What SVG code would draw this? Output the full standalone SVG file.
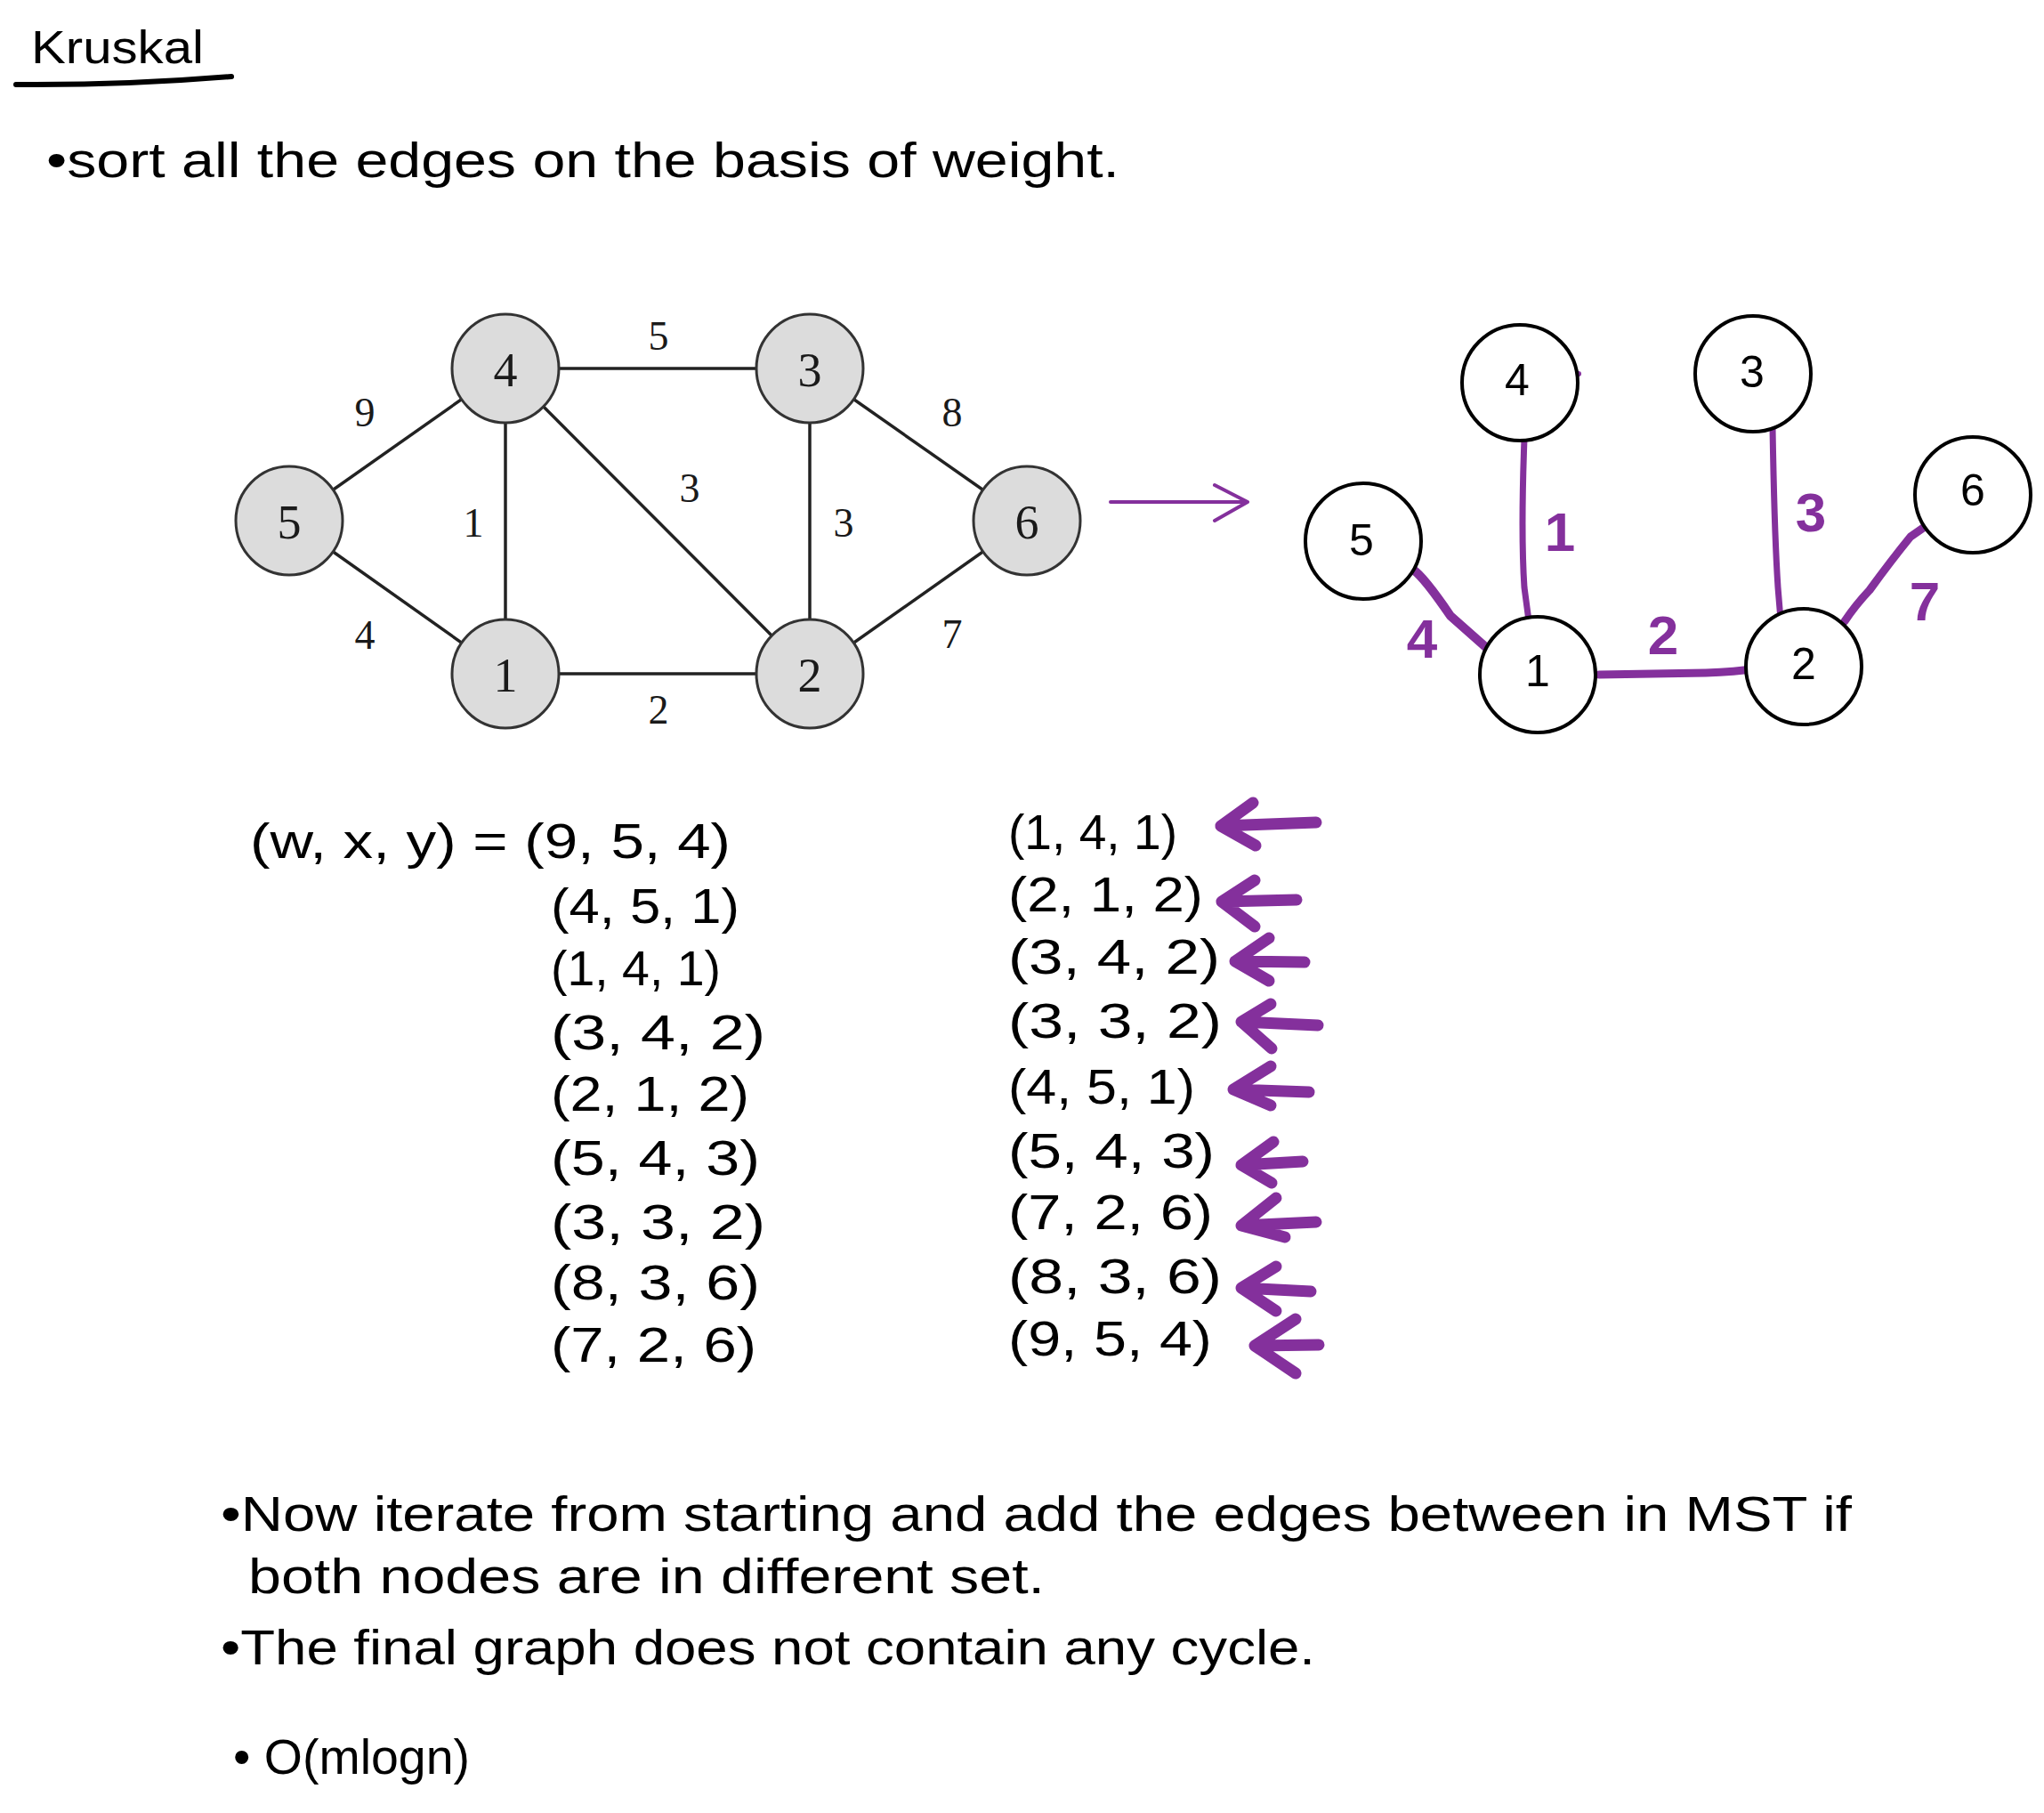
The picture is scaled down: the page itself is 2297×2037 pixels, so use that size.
<svg xmlns="http://www.w3.org/2000/svg" width="2297" height="2037" viewBox="0 0 2297 2037">
<style>
.hw{font-family:"Liberation Sans","Open Sans",sans-serif;fill:#000}
.tx{font-size:56px}
.tp{font-size:56px}
.ser{font-family:"Liberation Serif","DejaVu Serif",serif;fill:#1a1a1a;text-anchor:middle;dominant-baseline:central}
.gnode{fill:#dcdcdc;stroke:#333;stroke-width:3}
.wnode{fill:#fff;stroke:#000;stroke-width:4}
.nl{font-size:54px}
.el{font-size:46px}
.hl{font-family:"Liberation Sans","Open Sans",sans-serif;font-size:50px;text-anchor:middle;dominant-baseline:central;fill:#000}
.pl{font-family:"Liberation Sans","Open Sans",sans-serif;font-size:62px;font-weight:bold;text-anchor:middle;dominant-baseline:central;fill:#84309c}
.pe{fill:none;stroke:#84309c;stroke-linecap:round;stroke-linejoin:round}
.ge{stroke:#222;stroke-width:3.5}
.arr{fill:none;stroke:#84309c;stroke-width:13;stroke-linecap:round;stroke-linejoin:round}
</style>
<rect width="2297" height="2037" fill="#fff"/>

<!-- header -->
<text class="hw" x="35" y="71" font-size="52" textLength="194" lengthAdjust="spacingAndGlyphs">Kruskal</text>
<path d="M18,95 Q140,96 260,86" fill="none" stroke="#000" stroke-width="6" stroke-linecap="round"/>
<text class="hw tx" x="52" y="199" textLength="1206" lengthAdjust="spacingAndGlyphs">•sort all the edges on the basis of weight.</text>

<!-- connectors -->
<g id="connectors">
  <g id="left-edges">
    <line class="ge" x1="568" y1="414" x2="910" y2="414" stroke-width="5"/>
    <line class="ge" x1="568" y1="757" x2="910" y2="757" stroke-width="5"/>
    <line class="ge" x1="325" y1="585" x2="568" y2="414"/>
    <line class="ge" x1="325" y1="585" x2="568" y2="757"/>
    <line class="ge" x1="568" y1="414" x2="568" y2="757" stroke-width="3"/>
    <line class="ge" x1="568" y1="414" x2="910" y2="757"/>
    <line class="ge" x1="910" y1="414" x2="910" y2="757" stroke-width="3"/>
    <line class="ge" x1="910" y1="414" x2="1154" y2="585"/>
    <line class="ge" x1="910" y1="757" x2="1154" y2="585"/>
  </g>
  <g id="transform-arrow">
    <path d="M1248,564 L1402,564 M1365,545 L1402,564 L1365,585" fill="none" stroke="#84309c" stroke-width="4" stroke-linecap="round" stroke-linejoin="round"/>
  </g>
  <g id="mst-edges">
    <path class="pe" stroke-width="7" d="M1713,493 Q1709,600 1713,660 L1719,705"/>
    <path class="pe" stroke-width="7" d="M1992,480 Q1994,600 1998,660 L2002,708"/>
    <path class="pe" stroke-width="10" d="M1588,640 Q1600,648 1630,692 L1682,738"/>
    <path class="pe" stroke-width="9" d="M1797,758 L1917,756 Q1950,755 1975,751"/>
    <path class="pe" stroke-width="9" d="M2073,698 Q2085,680 2101,663 Q2125,630 2147,603 L2170,587"/>
    <circle cx="1774" cy="420" r="3" fill="#84309c"/>
  </g>
  <g id="list-arrows">
    <path class="arr" d="M1479,924 L1372,928 M1408,902 L1372,928 L1411,950"/>
    <path class="arr" d="M1457,1011 L1373,1013 M1410,989 L1373,1013 L1410,1041"/>
    <path class="arr" d="M1466,1081 L1388,1080 M1426,1054 L1388,1080 L1426,1102"/>
    <path class="arr" d="M1481,1152 L1395,1148 M1428,1128 L1395,1148 L1429,1178"/>
    <path class="arr" d="M1471,1227 L1386,1224 M1428,1198 L1386,1224 L1428,1242"/>
    <path class="arr" d="M1464,1305 L1395,1309 M1431,1283 L1395,1309 L1429,1329"/>
    <path class="arr" d="M1479,1373 L1395,1377 M1434,1346 L1395,1377 L1444,1390"/>
    <path class="arr" d="M1473,1451 L1395,1447 M1434,1423 L1395,1447 L1434,1473"/>
    <path class="arr" d="M1482,1511 L1410,1512 M1456,1482 L1410,1512 L1456,1543"/>
  </g>
</g>

<!-- left graph nodes -->
<g id="g-node-4"><ellipse class="gnode" cx="568" cy="414" rx="60" ry="61"/><text class="ser nl" x="568" y="416">4</text></g>
<g id="g-node-3"><ellipse class="gnode" cx="910" cy="414" rx="60" ry="61"/><text class="ser nl" x="910" y="416">3</text></g>
<g id="g-node-5"><ellipse class="gnode" cx="325" cy="585" rx="60" ry="61"/><text class="ser nl" x="325" y="587">5</text></g>
<g id="g-node-6"><ellipse class="gnode" cx="1154" cy="585" rx="60" ry="61"/><text class="ser nl" x="1154" y="587">6</text></g>
<g id="g-node-1"><ellipse class="gnode" cx="568" cy="757" rx="60" ry="61"/><text class="ser nl" x="568" y="759">1</text></g>
<g id="g-node-2"><ellipse class="gnode" cx="910" cy="757" rx="60" ry="61"/><text class="ser nl" x="910" y="759">2</text></g>

<!-- left edge labels -->
<g id="left-edge-labels">
  <text class="ser el" x="740" y="377">5</text>
  <text class="ser el" x="410" y="463">9</text>
  <text class="ser el" x="1070" y="463">8</text>
  <text class="ser el" x="532" y="587">1</text>
  <text class="ser el" x="775" y="548">3</text>
  <text class="ser el" x="948" y="587">3</text>
  <text class="ser el" x="410" y="713">4</text>
  <text class="ser el" x="1070" y="712">7</text>
  <text class="ser el" x="740" y="797">2</text>
</g>

<!-- right graph nodes -->
<g id="m-node-4"><circle class="wnode" cx="1708" cy="430" r="65"/><text class="hl" x="1705" y="427">4</text></g>
<g id="m-node-3"><circle class="wnode" cx="1970" cy="420" r="65"/><text class="hl" x="1969" y="418">3</text></g>
<g id="m-node-5"><circle class="wnode" cx="1532" cy="608" r="65"/><text class="hl" x="1530" y="607">5</text></g>
<g id="m-node-6"><circle class="wnode" cx="2217" cy="556" r="65"/><text class="hl" x="2217" y="551">6</text></g>
<g id="m-node-1"><circle class="wnode" cx="1728" cy="758" r="65"/><text class="hl" x="1728" y="754">1</text></g>
<g id="m-node-2"><circle class="wnode" cx="2027" cy="749" r="65"/><text class="hl" x="2027" y="746">2</text></g>

<!-- MST weight labels -->
<g id="mst-labels">
  <text class="pl" x="1753" y="597">1</text>
  <text class="pl" x="2035" y="575">3</text>
  <text class="pl" x="1598" y="717">4</text>
  <text class="pl" x="1869" y="713">2</text>
  <text class="pl" x="2163" y="675">7</text>
</g>

<!-- edge lists -->
<g id="list-left">
  <text class="hw tp" x="281" y="964" textLength="540" lengthAdjust="spacingAndGlyphs">(w, x, y) = (9, 5, 4)</text>
  <text class="hw tp" x="619" y="1037" textLength="212" lengthAdjust="spacingAndGlyphs">(4, 5, 1)</text>
  <text class="hw tp" x="619" y="1107" textLength="191" lengthAdjust="spacingAndGlyphs">(1, 4, 1)</text>
  <text class="hw tp" x="619" y="1179" textLength="241" lengthAdjust="spacingAndGlyphs">(3, 4, 2)</text>
  <text class="hw tp" x="619" y="1248" textLength="223" lengthAdjust="spacingAndGlyphs">(2, 1, 2)</text>
  <text class="hw tp" x="619" y="1320" textLength="235" lengthAdjust="spacingAndGlyphs">(5, 4, 3)</text>
  <text class="hw tp" x="619" y="1392" textLength="241" lengthAdjust="spacingAndGlyphs">(3, 3, 2)</text>
  <text class="hw tp" x="619" y="1460" textLength="235" lengthAdjust="spacingAndGlyphs">(8, 3, 6)</text>
  <text class="hw tp" x="619" y="1530" textLength="231" lengthAdjust="spacingAndGlyphs">(7, 2, 6)</text>
</g>
<g id="list-right">
  <text class="hw tp" x="1133" y="954" textLength="190" lengthAdjust="spacingAndGlyphs">(1, 4, 1)</text>
  <text class="hw tp" x="1133" y="1024" textLength="219" lengthAdjust="spacingAndGlyphs">(2, 1, 2)</text>
  <text class="hw tp" x="1133" y="1094" textLength="238" lengthAdjust="spacingAndGlyphs">(3, 4, 2)</text>
  <text class="hw tp" x="1133" y="1166" textLength="240" lengthAdjust="spacingAndGlyphs">(3, 3, 2)</text>
  <text class="hw tp" x="1133" y="1240" textLength="210" lengthAdjust="spacingAndGlyphs">(4, 5, 1)</text>
  <text class="hw tp" x="1133" y="1312" textLength="232" lengthAdjust="spacingAndGlyphs">(5, 4, 3)</text>
  <text class="hw tp" x="1133" y="1381" textLength="230" lengthAdjust="spacingAndGlyphs">(7, 2, 6)</text>
  <text class="hw tp" x="1133" y="1453" textLength="240" lengthAdjust="spacingAndGlyphs">(8, 3, 6)</text>
  <text class="hw tp" x="1133" y="1523" textLength="229" lengthAdjust="spacingAndGlyphs">(9, 5, 4)</text>
</g>

<!-- bottom notes -->
<text class="hw tx" x="248" y="1720" textLength="1833" lengthAdjust="spacingAndGlyphs">•Now iterate from starting and add the edges between in MST if</text>
<text class="hw tx" x="279" y="1790" textLength="895" lengthAdjust="spacingAndGlyphs">both nodes are in different set.</text>
<text class="hw tx" x="248" y="1870" textLength="1230" lengthAdjust="spacingAndGlyphs">•The final graph does not contain any cycle.</text>
<text class="hw tx" x="262" y="1993" textLength="266" lengthAdjust="spacingAndGlyphs">• O(mlogn)</text>
</svg>
